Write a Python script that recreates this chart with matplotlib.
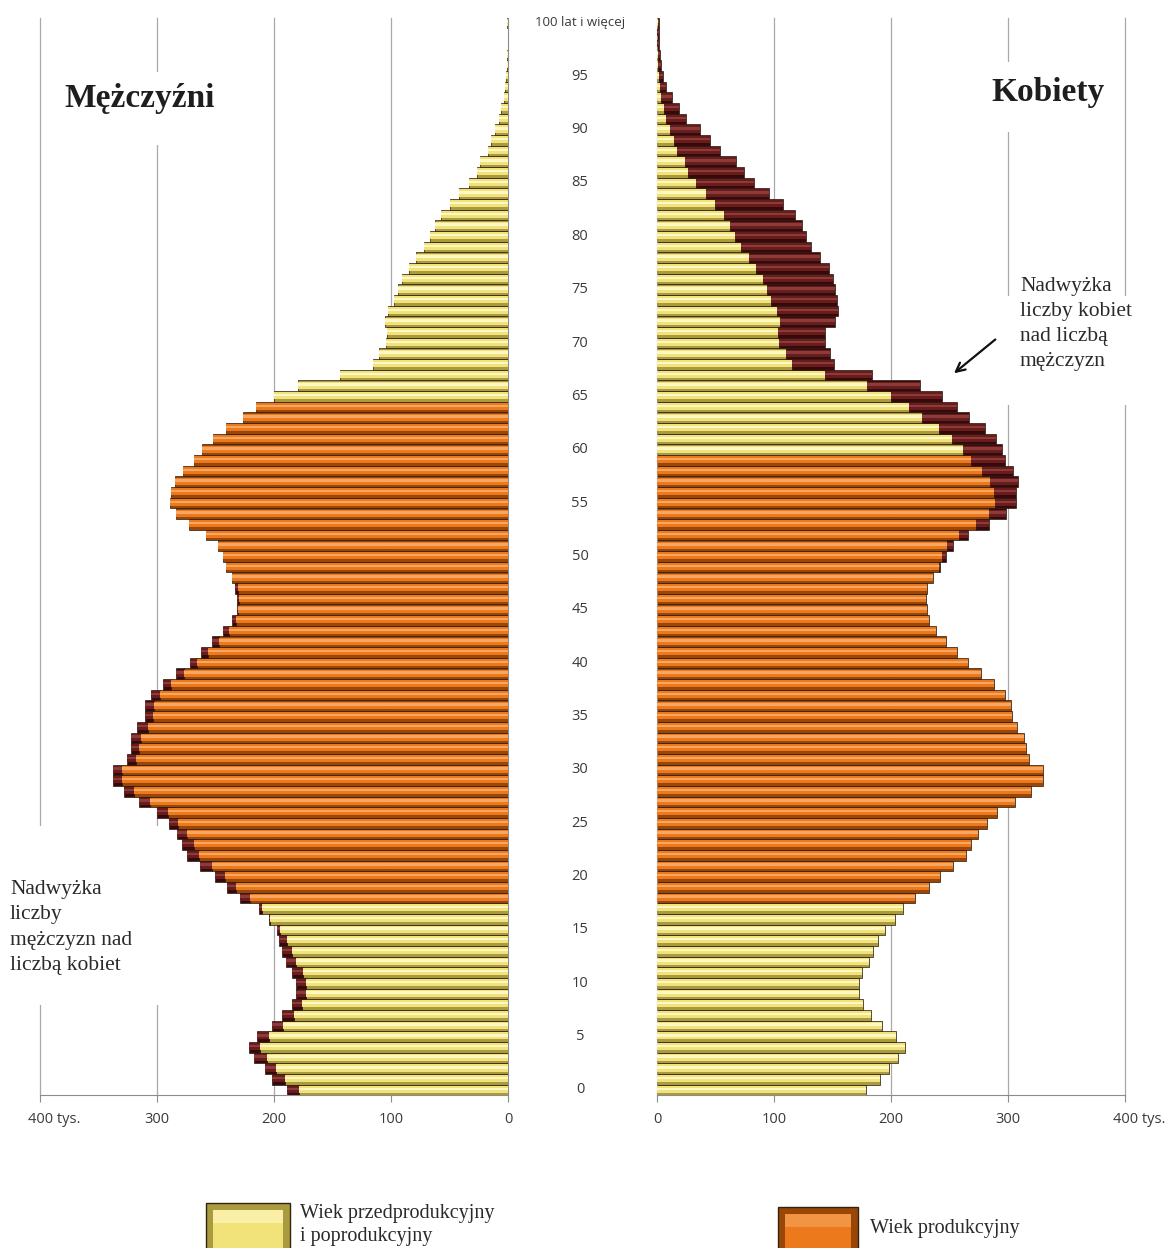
import numpy as np
import matplotlib
matplotlib.use("Agg")
import matplotlib.pyplot as plt
from matplotlib.patches import Rectangle
from matplotlib.transforms import blended_transform_factory, ScaledTranslation

# ---------------- data (thousands of persons) ----------------
ages = list(range(0, 101))
age_tick_labels = ["0", "5", "10", "15", "20", "25", "30", "35", "40", "45", "50",
                   "55", "60", "65", "70", "75", "80", "85", "90", "95", "100 lat i więcej"]
x_tick_values = [0, 100, 200, 300, 400]
x_tick_labels = ["0", "100", "200", "300", "400 tys."]

men = [188.6, 201.6, 207.5, 217.0, 221.0, 214.7, 202.0, 193.0, 185.0, 181.4,
       181.4, 184.6, 189.5, 193.0, 196.0, 197.7, 204.0, 213.0, 228.8, 240.0,
       250.6, 263.0, 274.0, 279.0, 283.0, 290.0, 300.0, 315.0, 328.0, 338.0,
       338.0, 326.0, 322.0, 322.0, 317.0, 310.0, 310.0, 305.0, 295.0, 283.7,
       272.0, 262.0, 253.0, 243.5, 236.0, 232.0, 232.0, 233.0, 236.0, 241.0,
       244.0, 248.0, 258.0, 273.0, 284.0, 289.0, 288.0, 285.0, 277.8, 268.6,
       261.4, 252.0, 240.8, 226.5, 215.7, 200.0, 179.7, 143.8, 115.4, 110.0,
       104.5, 103.5, 105.0, 102.3, 97.7, 94.3, 90.5, 85.0, 78.4, 71.8,
       67.0, 62.6, 57.5, 49.7, 41.7, 33.3, 26.7, 23.9, 17.2, 14.4,
       11.0, 7.5, 5.7, 3.7, 2.5, 1.5, 1.0, 0.6, 0.4, 0.3,
       0.5]
women = [178.7, 191.0, 198.0, 206.0, 211.6, 204.0, 192.0, 183.0, 176.0, 172.5,
         172.5, 175.6, 181.5, 185.0, 188.7, 195.0, 203.0, 210.6, 220.6, 232.5,
         242.0, 253.0, 264.5, 268.5, 274.0, 282.0, 291.0, 306.0, 319.6, 330.0,
         330.0, 317.7, 315.0, 313.4, 308.0, 303.0, 302.5, 297.8, 287.8, 277.0,
         266.0, 256.6, 247.0, 238.4, 232.8, 230.6, 230.0, 230.6, 236.0, 241.6,
         247.2, 253.4, 266.0, 283.7, 298.4, 307.0, 307.0, 308.7, 304.0, 297.8,
         294.7, 290.0, 280.6, 266.6, 256.6, 243.7, 224.4, 183.7, 151.0, 148.2,
         143.5, 144.0, 152.5, 155.0, 153.7, 152.3, 150.3, 146.6, 139.4, 131.4,
         127.4, 123.7, 118.0, 108.0, 96.0, 83.0, 74.3, 67.4, 53.7, 45.7,
         36.6, 25.1, 18.9, 13.1, 7.5, 5.0, 3.5, 2.5, 2.0, 1.5,
         2.0]
men_working_ages = (18, 64)
women_working_ages = (18, 59)

# ---------------- styling ----------------
W, H = 1173, 1248
YEL = ("#A99B3E", "#F2E27A", "#FFF8C6")
ORA = ("#9A4606", "#EC7A1C", "#F6A862")
BRN = ("#360A0A", "#6A1B1B", "#8C3B3B")
GRID = "#A8A8A8"
TXT = "#3A3A3A"

fig = plt.figure(figsize=(W / 100, H / 100), dpi=100)
fig.patch.set_facecolor("white")


def fx(px):
    return px / W


def fy(py):
    return 1 - py / H


y_bot, y_top = 1095.3, 17.6
axL = fig.add_axes([fx(40), fy(y_bot), fx(508) - fx(40), (y_bot - y_top) / H])
axR = fig.add_axes([fx(657), fy(y_bot), fx(1125) - fx(657), (y_bot - y_top) / H])

a = np.array(ages)
m = np.array(men)
f = np.array(women)
base = np.minimum(m, f)


def shaded(ax, y, width, left, palettes):
    dark = [p[0] for p in palettes]
    main = [p[1] for p in palettes]
    light = [p[2] for p in palettes]
    ax.barh(y, width, left=left, height=1.0, color=dark, edgecolor="#2a1a10",
            linewidth=0.5, zorder=2)
    ax.barh(y + 0.06, width, left=left, height=0.66, color=main,
            linewidth=0, zorder=3)
    ax.barh(y + 0.12, width, left=left, height=0.22, color=light,
            linewidth=0, zorder=4)


for ax, vals, other, (lo, hi) in ((axL, m, f, men_working_ages),
                                  (axR, f, m, women_working_ages)):
    pal = [ORA if lo <= age <= hi else YEL for age in ages]
    shaded(ax, a, base, 0, pal)
    exc = np.clip(vals - other, 0, None)
    sel = exc > 0
    shaded(ax, a[sel], exc[sel], base[sel], [BRN] * int(sel.sum()))

    ax.set_ylim(-0.5, 100.5)
    ax.set_yticks([])
    for x in (100, 200, 300, 400):
        ax.axvline(x, color=GRID, lw=0.9, zorder=0, clip_on=False)
    ax.spines["top"].set_visible(False)
    ax.spines["bottom"].set_color("#8C8C8C")
    ax.set_xticks(x_tick_values)
    ax.set_xticklabels(x_tick_labels)
    ax.tick_params(axis="x", direction="out", length=5, color="#8C8C8C",
                   labelsize=10.5, labelcolor=TXT, pad=7)
    for lab in ax.get_xticklabels():
        lab.set_fontfamily("Open Sans")

axL.set_xlim(400, 0)
axR.set_xlim(0, 400)
axL.spines["left"].set_visible(False)
axL.spines["right"].set_color("#8C8C8C")
axR.spines["right"].set_visible(False)
axR.spines["left"].set_color("#8C8C8C")

# shift "400 tys." so that the number sits on its tick
for ax in (axL, axR):
    lab = ax.get_xticklabels()[-1]
    lab.set_transform(lab.get_transform() + ScaledTranslation(14 / 100, 0, fig.dpi_scale_trans))

# age labels in the middle
tr = blended_transform_factory(fig.transFigure, axL.transData)
for i, lab in enumerate(age_tick_labels):
    fig.text(fx(580), i * 5, lab, transform=tr, ha="center", va="center",
             fontsize=10.5 if i < 20 else 9.5, color=TXT, family="Open Sans")

# white boxes behind titles / annotations (interrupt gridlines)
for (x0, y0, x1, y1) in ((52, 72, 228, 145), (982, 62, 1112, 132),
                         (0, 826, 160, 1005), (1005, 296, 1152, 405)):
    fig.add_artist(Rectangle((fx(x0), fy(y1)), fx(x1) - fx(x0), (y1 - y0) / H,
                             transform=fig.transFigure, facecolor="white",
                             edgecolor="none", zorder=1))

fig.text(fx(140), fy(98), "Mężczyźni", ha="center", va="center", fontsize=24,
         fontweight="bold", family="Liberation Serif", color="#1E1E1E", zorder=3)
fig.text(fx(1048), fy(93), "Kobiety", ha="center", va="center", fontsize=24,
         fontweight="bold", family="Liberation Serif", color="#1E1E1E", zorder=3)

fig.text(fx(10), fy(880), "Nadwyżka\nliczby\nmężczyzn nad\nliczbą kobiet",
         ha="left", va="top", fontsize=15.5, family="Liberation Serif",
         color="#2A2A2A", linespacing=1.45, zorder=3)
fig.text(fx(1020), fy(277), "Nadwyżka\nliczby kobiet\nnad liczbą\nmężczyzn",
         ha="left", va="top", fontsize=15.5, family="Liberation Serif",
         color="#2A2A2A", linespacing=1.42, zorder=3)

axL.annotate("", xy=(296, 23.2), xytext=(334, 19.4),
             arrowprops=dict(arrowstyle="->", lw=1.6, color="#111111",
                             mutation_scale=16),
             annotation_clip=False, zorder=6)
axR.annotate("", xy=(252, 67.0), xytext=(291, 70.5),
             arrowprops=dict(arrowstyle="->", lw=1.6, color="#111111",
                             mutation_scale=16),
             annotation_clip=False, zorder=6)


# legend
def legend_box(x0, y0, x1, y1, pal):
    fig.add_artist(Rectangle((fx(x0), fy(y1)), fx(x1) - fx(x0), (y1 - y0) / H,
                             transform=fig.transFigure, facecolor=pal[0],
                             edgecolor="#2E2410", lw=1.0, zorder=2))
    fig.add_artist(Rectangle((fx(x0 + 7), fy(y1 - 7)), fx(x1 - 7) - fx(x0 + 7),
                             (y1 - y0 - 14) / H, transform=fig.transFigure,
                             facecolor=pal[1], edgecolor="none", zorder=2))
    fig.add_artist(Rectangle((fx(x0 + 7), fy(y0 + 20)), fx(x1 - 7) - fx(x0 + 7),
                             13 / H, transform=fig.transFigure,
                             facecolor=pal[2], edgecolor="none", alpha=0.6, zorder=2))


legend_box(206, 1203, 290, 1255, YEL)
legend_box(778, 1207, 858, 1255, ORA)
fig.text(fx(300), fy(1225), "Wiek przedprodukcyjny\ni poprodukcyjny", ha="left",
         va="center", fontsize=14.5, family="Liberation Serif", color="#2A2A2A",
         linespacing=1.33)
fig.text(fx(870), fy(1228), "Wiek produkcyjny", ha="left", va="center",
         fontsize=14.5, family="Liberation Serif", color="#2A2A2A")

fig.savefig("out.png", dpi=100)
